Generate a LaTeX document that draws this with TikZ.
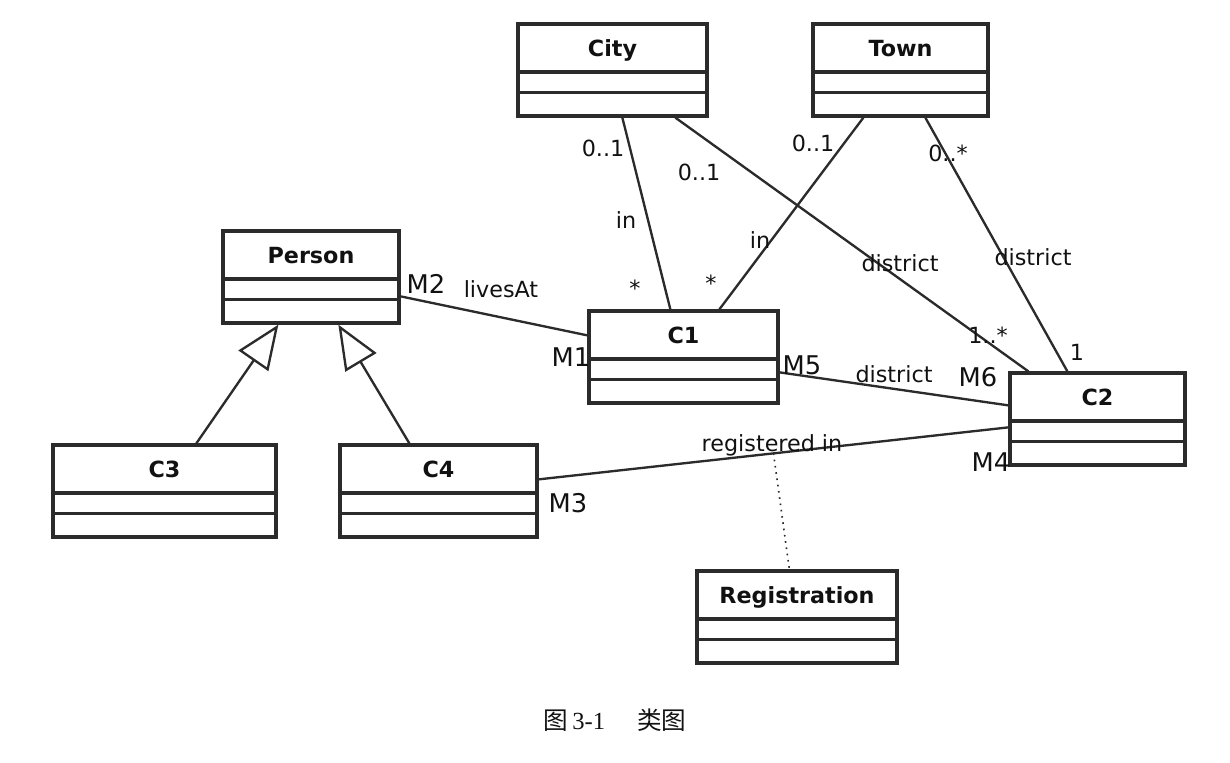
\documentclass[tikz,border=0pt]{standalone}
\usepackage{fontspec}
\setmainfont{DejaVu Sans}
\newfontfamily\cjk{Noto Sans CJK SC}
\newfontfamily\capserif{Liberation Serif}
\usetikzlibrary{arrows.meta,positioning,calc,fit}
\definecolor{trait}{HTML}{2B2B2B}
\definecolor{texte}{HTML}{111111}

\begin{document}
\begin{tikzpicture}[x=0.015cm,y=-0.015cm,
  classbox/.style={draw=trait,line width=1.4pt,inner sep=0pt},
  classname/.style={font=\fontsize{9.5}{11}\selectfont\bfseries,texte,anchor=base},
  assoc/.style={draw=trait,line width=1pt},
  lbl/.style={font=\fontsize{9.5}{11}\selectfont,texte,inner sep=0pt},
  role/.style={font=\fontsize{11}{13}\selectfont,texte,inner sep=0pt},
  inherit/.style={assoc,-{Triangle[open,length=6.6mm,width=5.4mm,fill=white]}}]
  \useasboundingbox (0,0) rectangle (1230,762);
  % classes: name/left/top/width/title
  \foreach \n/\x/\y/\w/\cname in {city/518/24/189/City,town/813/24/175/Town,
      person/223/231/176/Person,c1/589/311/189/C1,c2/1010/373/175/C2,
      c3/53/445/223/C3,c4/340/445/197/C4,reg/697/571/200/Registration} {
    \node[classbox,fit={(\x,\y) (\x+\w,\y+92)}] (\n) {};
    \node[classname] (\n-t) at ($(\n.north)+(0,34)$) {\cname};
    \draw[trait,line width=1.4pt] ($(\n.north west)+(0,49.5)$) -- ++(\w+3,0)
      ($(\n.north west)+(0,70)$) -- ++(\w+3,0);
  }
  % associations
  \draw[assoc] ($(city.south west)+(106,0)$) -- ($(c1.north west)+(83,0)$);
  \draw[assoc] ($(city.south west)+(159,0)$) -- ($(c2.north west)+(20,0)$);
  \draw[assoc] ($(town.south west)+(52,0)$) -- ($(c1.north west)+(132,0)$);
  \draw[assoc] ($(town.south west)+(114,0)$) -- ($(c2.north west)+(59,0)$);
  \draw[assoc] ($(person.north east)+(0,67)$) -- ($(c1.north west)+(0,26)$);
  \draw[assoc] ($(c1.north east)+(0,63)$) -- ($(c2.north west)+(0,34)$);
  \draw[assoc] ($(c4.north east)+(0,36)$) -- coordinate (regpt) ($(c2.north west)+(0,56)$);
  \draw[trait,dotted,line width=0.7pt] (regpt) -- ($(reg.north west)+(94,0)$);
  % generalisation
  \draw[inherit] ($(c3.north west)+(145,0)$) -- ($(person.south west)+(57,0)$);
  \draw[inherit] ($(c4.north west)+(71,0)$) -- ($(person.south west)+(117,0)$);
  % multiplicities and association names
  \node[lbl] (m-city-in) at (603,148) {0..1};
  \node[lbl] (m-city-dist) at (699,172) {0..1};
  \node[lbl] (m-town-in) at (813,143) {0..1};
  \node[lbl] (m-town-dist) at (948,153) {0..*};
  \node[lbl] (n-city-in) at (626,220) {in};
  \node[lbl] (m-c1-city) at (635,288) {*};
  \node[lbl] (m-c1-town) at (711,283) {*};
  \node[lbl] (n-town-in) at (760,240) {in};
  \node[lbl] (n-city-dist) at (900,263) {district};
  \node[lbl] (n-town-dist) at (1033,257) {district};
  \node[lbl] (m-c2-city) at (988,335) {1..*};
  \node[lbl] (m-c2-town) at (1077,352) {1};
  \node[lbl] (n-lives) at (501,289) {livesAt};
  \node[lbl] (n-c1c2) at (894,374) {district};
  \node[lbl] (n-reg) at (772,445) {registered in};
  \node[role] (r-m2) at (426,284) {M2};
  \node[role] (r-m1) at (571,357) {M1};
  \node[role] (r-m5) at (802,365) {M5};
  \node[role] (r-m6) at (978,377) {M6};
  \node[role] (r-m4) at (991,462) {M4};
  \node[role] (r-m3) at (568,503) {M3};
  % caption
  \node[font=\fontsize{10.5}{12}\selectfont,texte] (caption) at (615,720)
    {{\cjk 图}\,{\capserif 3-1}\hspace{1.3em}{\cjk 类图}};
\end{tikzpicture}
\end{document}
